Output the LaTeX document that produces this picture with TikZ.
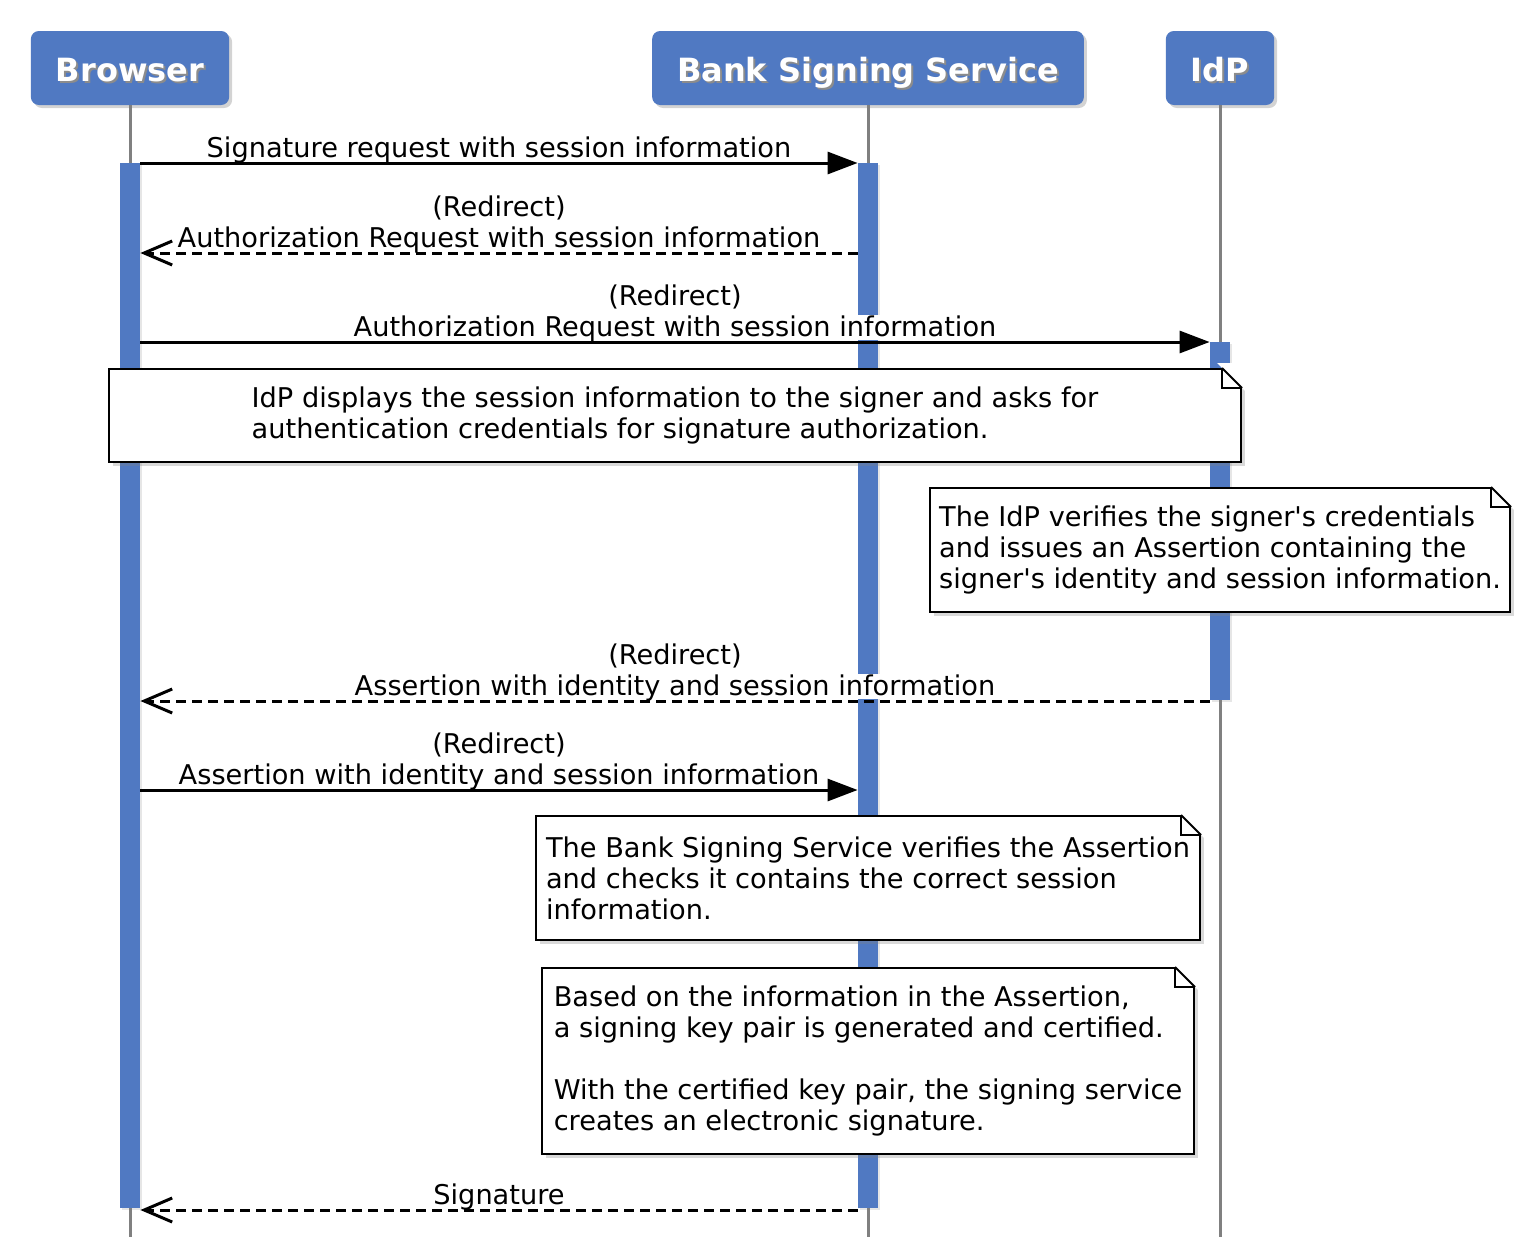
\documentclass[tikz,border=0pt]{standalone}
\usepackage{fontspec}
\setmainfont{DejaVu Sans}[Ligatures=TeXOff]
\usetikzlibrary{arrows.meta, positioning, calc, shadows}
\definecolor{actorblue}{RGB}{80,121,194}
\definecolor{lifegray}{RGB}{128,128,128}
\newcommand{\hdshadow}[1]{\makebox[0pt][l]{\hspace{1pt}\raisebox{-1pt}{\color{black!45}#1}}#1}
\newcommand{\foldnote}[1]{%
  \fill[white] ($(#1.north east)+(-25,5)$) -- ($(#1.north east)+(5,5)$) -- ($(#1.north east)+(5,-25)$) -- cycle;
  \draw[line width=1pt] ($(#1.north east)+(-20,0)$) -- ($(#1.north east)+(0,-20)$);
  \draw[line width=0.6pt] ($(#1.north east)+(-20,0)$) |- ($(#1.north east)+(0,-20)$);}

\begin{document}
\begin{tikzpicture}[x=0.5pt, y=0.5pt, font=\fontsize{13.6}{15.5}\selectfont,
    actor/.style={rectangle, rounded corners=4pt, fill=actorblue, text=white,
      font=\fontsize{16}{19}\selectfont\bfseries, minimum height=37pt, inner xsep=12.5pt,
      text height=16pt, text depth=3pt,
      drop shadow={shadow xshift=1.5pt, shadow yshift=-1.5pt, opacity=0.35}},
    lifeline/.style={draw=lifegray, line width=1.5pt},
    actbar/.style={rectangle, fill=actorblue, minimum width=10pt, inner sep=0pt,
      drop shadow={shadow xshift=1pt, shadow yshift=-1pt, opacity=0.2}},
    call/.style={line width=1.5pt, -{Triangle[length=15pt, width=11pt]}},
    reply/.style={line width=1.5pt, dash pattern=on 5pt off 3pt,
      -{Straight Barb[length=14pt, width=12pt]}},
    msgtext/.style={anchor=base, yshift=3pt, fill=white, inner sep=0pt, text depth=2.2pt},
    redirtext/.style={anchor=base, yshift=18.5pt, inner sep=0pt},
    note/.style={rectangle, draw, line width=1pt, fill=white, align=left, inner sep=4pt,
      drop shadow={shadow xshift=2pt, shadow yshift=-2pt, opacity=0.3}}]
  \useasboundingbox (0,0) rectangle (1530,-1258);

  % participants
  \node[actor] (browser) at (130,-68) {\hdshadow{Browser}};
  \node[actor] (bank) at (868,-68) {\hdshadow{Bank Signing Service}};
  \node[actor] (idp) at (1220,-68) {\hdshadow{IdP}};

  \coordinate (bottom) at (0,-1237);
  \foreach \who in {browser,bank,idp}
    \draw[lifeline] (\who) -- (\who |- bottom);

  % activations
  \node[actbar, minimum height=522.5pt] (browserbar) at (130,-685.5) {};
  \node[actbar, minimum height=522.5pt] (bankbar) at (868,-685.5) {};
  \node[actbar, minimum height=179pt] (idpbar) at (1220,-521) {};

  % message rows
  \coordinate (r1) at (0,-163);
  \coordinate (r2) at (0,-253);
  \coordinate (r3) at (0,-342);
  \coordinate (r6) at (0,-701);
  \coordinate (r7) at (0,-790);
  \coordinate (r10) at (0,-1210);

  \draw[call] (browserbar.east |- r1) -- node[msgtext] (m1) {Signature request with session information} (bankbar.west |- r1);
  \draw[reply] (bankbar.west |- r2) -- node[msgtext] (m2) {Authorization Request with session information}
    node[redirtext] (m2r) {(Redirect)} (browserbar.east |- r2);
  \draw[call] (browserbar.east |- r3) -- node[msgtext] (m3) {Authorization Request with session information}
    node[redirtext] (m3r) {(Redirect)} (idpbar.west |- r3);
  \draw[reply] (idpbar.west |- r6) -- node[msgtext] (m6) {Assertion with identity and session information}
    node[redirtext] (m6r) {(Redirect)} (browserbar.east |- r6);
  \draw[call] (browserbar.east |- r7) -- node[msgtext] (m7) {Assertion with identity and session information}
    node[redirtext] (m7r) {(Redirect)} (bankbar.west |- r7);
  \draw[reply] (bankbar.west |- r10) -- node[msgtext] (m10) {Signature} (browserbar.east |- r10);

  % notes
  \node[note, minimum width=566pt, minimum height=46.5pt] (n1) at (675,-415.5)
    {IdP displays the session information to the signer and asks for\\authentication credentials for signature authorization.};
  \foldnote{n1}
  \node[note, minimum width=290pt, minimum height=62pt] (n2) at (1220,-550)
    {The IdP verifies the signer's credentials\\and issues an Assertion containing the\\signer's identity and session information.};
  \foldnote{n2}
  \node[note, minimum width=332pt, minimum height=62pt] (n3) at (868,-878)
    {The Bank Signing Service verifies the Assertion\\and checks it contains the correct session\\information.};
  \foldnote{n3}
  \node[note, minimum width=326pt, minimum height=93pt] (n4) at (868,-1061)
    {Based on the information in the Assertion,\\a signing key pair is generated and certified.\\[15.5pt]With the certified key pair, the signing service\\creates an electronic signature.};
  \foldnote{n4}
\end{tikzpicture}
\end{document}
